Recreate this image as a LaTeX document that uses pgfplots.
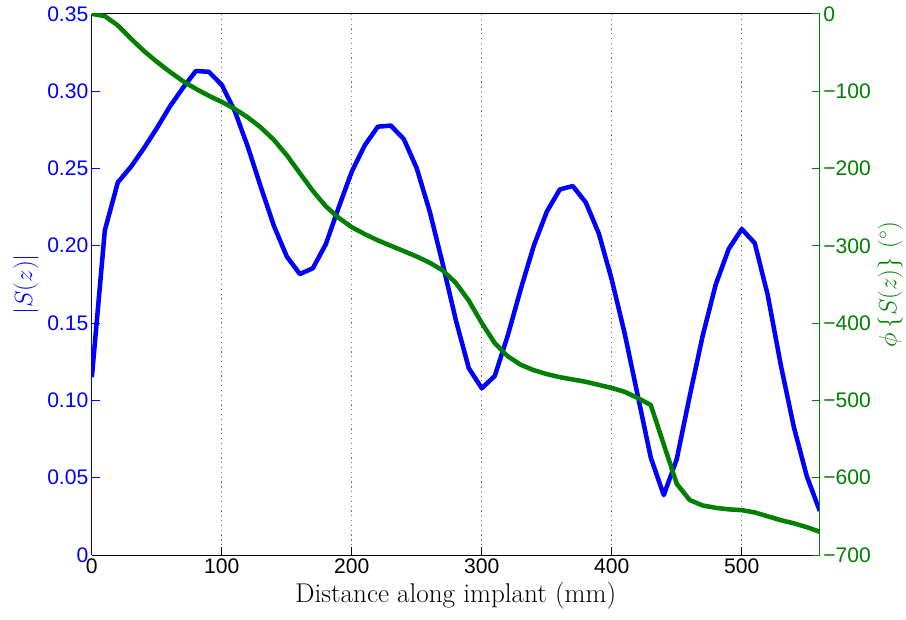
\documentclass[border=0pt]{standalone}
\usepackage{pgfplots}
\pgfplotsset{compat=1.18}
\usepackage{fontspec}
\setsansfont{Liberation Sans}
\definecolor{mblue}{rgb}{0,0,1}
\definecolor{mgreen}{rgb}{0,0.5,0}
\begin{document}
\begin{tikzpicture}
\pgfplotsset{every axis/.append style={
  scale only axis, width=725pt, height=539pt,
  xmin=0, xmax=560,
  tick align=inside, major tick length=8pt,
  ticklabel style={font=\fontsize{21}{25}\selectfont\sffamily},
  /pgf/number format/assume math mode=true,
  label style={font=\fontsize{27}{32}\selectfont}}}
\begin{axis}[
  axis x line*=box, axis y line*=left,
  xtick pos=left,
  xtick={0,100,...,500},
  xmajorgrids, grid style={black!55, dash pattern=on 1.2pt off 3.6pt, line width=0.8pt},
  xlabel={Distance along implant (mm)},
  x axis line style={black, line width=0.8pt},
  y axis line style={mblue, line width=0.8pt},
  ymin=0, ymax=0.35,
  ytick={0,0.05,...,0.35},
  yticklabels={0,0.05,0.10,0.15,0.20,0.25,0.30,0.35},
  yticklabel style={mblue},
  ytick style={mblue, line width=0.8pt},
  xtick style={black, line width=0.8pt},
  ylabel={$|S(z)|$}, ylabel style={mblue, yshift=2pt},
  xlabel style={yshift=-2pt}]
\addplot[mblue, line width=4.5pt, line join=round] coordinates {
(0,0.115) (10,0.210) (20,0.241) (30,0.251) (40,0.263) (50,0.276) (60,0.290) (70,0.302)
(80,0.313) (90,0.3125) (100,0.304) (110,0.287) (120,0.264) (130,0.238) (140,0.213)
(150,0.193) (160,0.1817) (170,0.1854) (180,0.201) (190,0.225) (200,0.248) (210,0.265)
(220,0.277) (230,0.2777) (240,0.269) (250,0.250) (260,0.222) (270,0.188) (280,0.152)
(290,0.1208) (300,0.1078) (310,0.1158) (320,0.142) (330,0.172) (340,0.200) (350,0.222)
(360,0.2364) (370,0.2386) (380,0.228) (390,0.208) (400,0.178) (410,0.143) (420,0.103)
(430,0.063) (440,0.0387) (450,0.062) (460,0.103) (470,0.142) (480,0.175) (490,0.198)
(500,0.2108) (510,0.2017) (520,0.168) (530,0.123) (540,0.083) (550,0.051) (560,0.0285)};
\end{axis}
\begin{axis}[
  axis x line=none, axis y line*=right,
  y axis line style={mgreen, line width=0.8pt},
  ymin=-700, ymax=0,
  ytick={-700,-600,...,0},
  yticklabels={−700,−600,−500,−400,−300,−200,−100,0},
  yticklabel style={mgreen},
  ytick style={mgreen, line width=0.8pt},
  ylabel={$\phi\left\{S(z)\right\}$ $(^\circ)$},
  ylabel style={mgreen}]
\addplot[mgreen, line width=4.5pt, line join=round] coordinates {
(0,0) (10,-3) (20,-15) (30,-32) (40,-48) (50,-62) (60,-75) (70,-87) (80,-97)
(90,-106) (100,-114) (110,-123) (120,-134) (130,-147) (140,-163) (150,-183)
(160,-206) (170,-229) (180,-249) (190,-264) (200,-276) (210,-285) (220,-293)
(230,-300) (240,-307) (250,-314) (260,-322) (270,-332) (280,-348) (290,-371)
(300,-400) (310,-426) (320,-443) (330,-454) (340,-461) (350,-466) (360,-470)
(370,-473) (380,-476) (390,-480) (400,-484) (410,-489) (420,-497) (430,-506)
(440,-557) (450,-608) (460,-629) (470,-636) (480,-639) (490,-641) (500,-642)
(510,-645) (520,-650) (530,-655) (540,-659) (550,-664) (560,-670)};
\end{axis}
\path (current bounding box.west) ++(-10pt,0);
\path (current bounding box.south) ++(0,-7pt);
\path (current bounding box.north) ++(0,3pt);
\end{tikzpicture}
\end{document}
